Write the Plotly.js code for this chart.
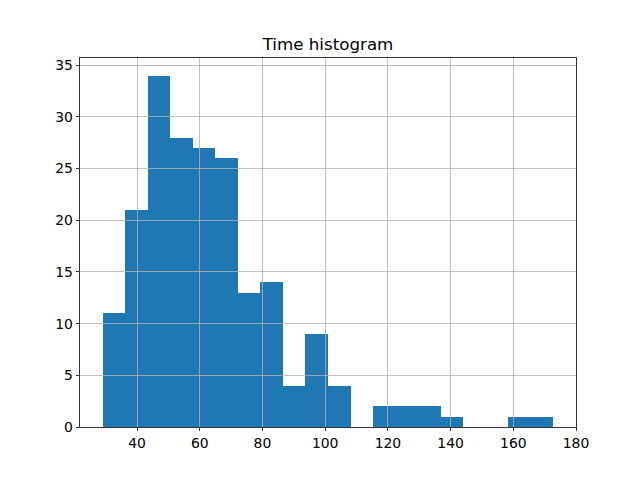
<!DOCTYPE html>
<html>
<head>
<meta charset="utf-8">
<script src="https://cdn.plot.ly/plotly-3.0.1.min.js"></script>
<style>html,body{margin:0;padding:0;background:#fff;}#chart{width:640px;height:480px;}</style>
</head>
<body>
<div id="chart"></div>
<script>
// Histogram bin edges and counts per bin
const binEdges = [29.0, 36.19, 43.38, 50.57, 57.76, 64.95, 72.14, 79.33, 86.52, 93.71,
                  100.9, 108.09, 115.28, 122.47, 129.66, 136.85, 144.04, 151.23, 158.42, 165.61, 172.8];
const counts = [11, 21, 34, 28, 27, 26, 13, 14, 4, 9, 4, 0, 2, 2, 2, 1, 0, 0, 1, 1];
const chartTitle = "Time histogram";

const centers = counts.map((c, i) => (binEdges[i] + binEdges[i + 1]) / 2);
const widths = counts.map((c, i) => binEdges[i + 1] - binEdges[i]);

const lo = binEdges[0], hi = binEdges[binEdges.length - 1];
const pad = (hi - lo) * 0.05;
const xRange = [lo - pad, hi + pad];
const yRange = [0, Math.max(...counts) * 1.05];

const font = {family: "DejaVu Sans", size: 13.9, color: "#000"};

const traces = [
  {type: "bar", x: centers, y: counts, width: widths,
   marker: {color: "#1f77b4", line: {width: 0}}, hoverinfo: "x+y", showlegend: false},
  {type: "scatter", x: [], y: [], xaxis: "x2", yaxis: "y2", showlegend: false, hoverinfo: "skip"}
];

const layout = {
  width: 640, height: 480,
  margin: {l: 80, r: 64, t: 58, b: 53},
  paper_bgcolor: "#fff", plot_bgcolor: "rgba(0,0,0,0)",
  bargap: 0,
  font: font,
  title: {text: chartTitle, font: {family: "DejaVu Sans", size: 16.7, color: "#000"},
          x: 0.5, xref: "paper", xanchor: "center", y: 1, yref: "paper", yanchor: "bottom", pad: {b: 8}},
  xaxis: {range: xRange, tick0: 0, dtick: 20, showgrid: false, zeroline: false,
          showline: true, mirror: true, linecolor: "#000", linewidth: 0.8,
          ticks: "outside", ticklen: 3.5, tickwidth: 0.8, tickcolor: "#000", tickfont: font},
  yaxis: {range: yRange, tick0: 0, dtick: 5, showgrid: false, zeroline: false,
          showline: true, mirror: true, linecolor: "#000", linewidth: 0.8,
          ticks: "outside", ticklen: 3.5, tickwidth: 0.8, tickcolor: "#000", tickfont: font},
  xaxis2: {range: xRange, tick0: 0, dtick: 20, showgrid: true, gridcolor: "#b0b0b0", gridwidth: 0.8,
           zeroline: false, showline: false, showticklabels: false, ticks: "", anchor: "y2", domain: [0, 1]},
  yaxis2: {range: yRange, tick0: 0, dtick: 5, showgrid: true, gridcolor: "#b0b0b0", gridwidth: 0.8,
           zeroline: false, showline: false, showticklabels: false, ticks: "", anchor: "x2", domain: [0, 1]}
};

Plotly.newPlot("chart", traces, layout, {displayModeBar: false, staticPlot: true});
</script>
</body>
</html>
